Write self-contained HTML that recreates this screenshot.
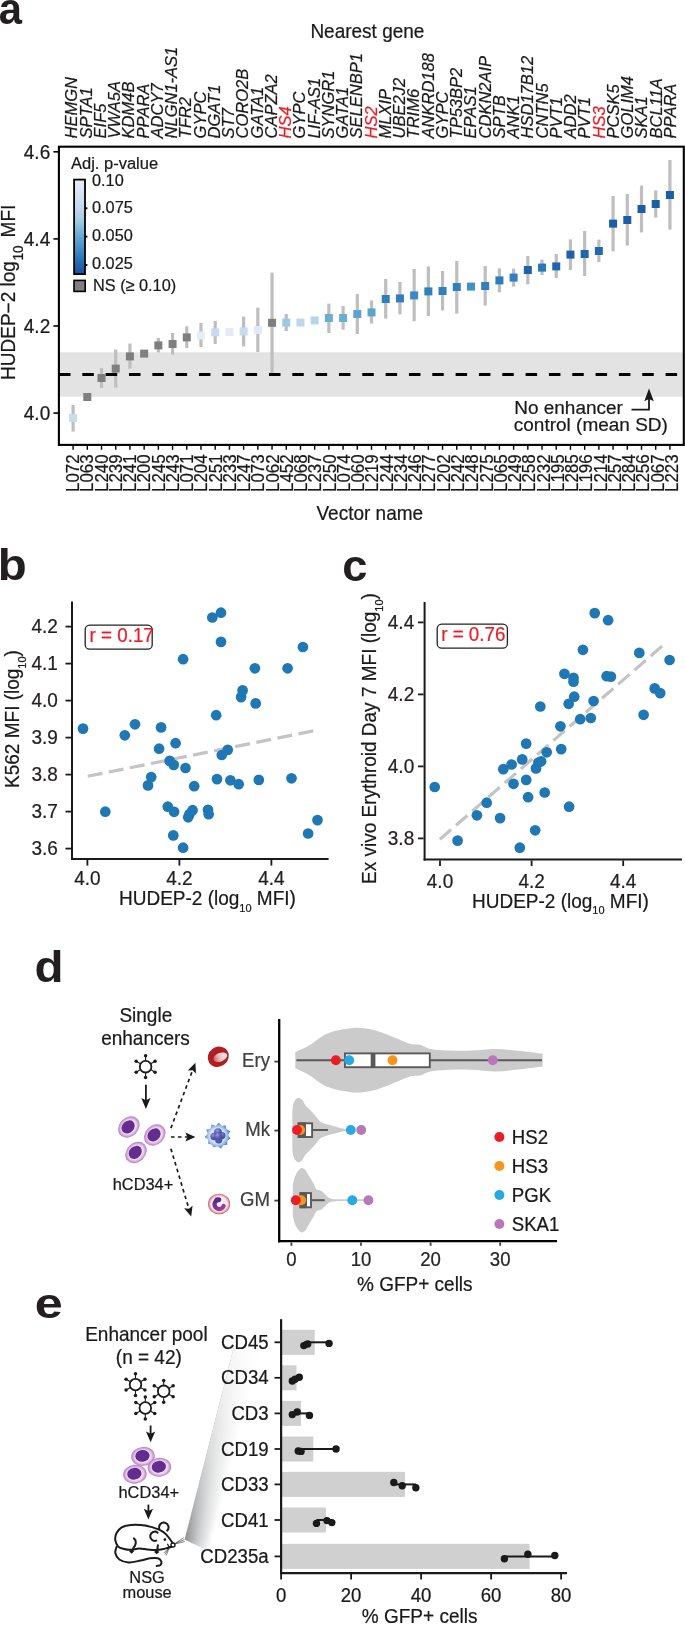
<!DOCTYPE html>
<html><head><meta charset="utf-8"><title>Figure</title>
<style>
html,body{margin:0;padding:0;background:#fff;}
body{width:685px;height:1625px;overflow:hidden;}
svg{display:block;will-change:transform;font-family:"Liberation Sans", sans-serif;}
</style></head>
<body>
<svg width="685" height="1625" viewBox="0 0 685 1625">
<rect width="685" height="1625" fill="#fff"/>
<text transform="translate(-1.2,24.2) scale(0.95,1)" font-size="44" font-weight="bold" fill="#231f20">a</text>
<text transform="translate(367.40,38.20) scale(1,1.04)" font-size="19" text-anchor="middle" fill="#1a1a1a" stroke="#1a1a1a" stroke-width="0.22" >Nearest gene</text>
<rect x="59" y="352.3" width="624.5" height="44.4" fill="#e3e3e3"/>
<line x1="73.10" y1="405.0" x2="73.10" y2="431.6" stroke="#bebebe" stroke-width="3.2"/>
<line x1="101.52" y1="368.0" x2="101.52" y2="388.0" stroke="#bebebe" stroke-width="3.2"/>
<line x1="115.73" y1="349.6" x2="115.73" y2="387.6" stroke="#bebebe" stroke-width="3.2"/>
<line x1="129.94" y1="343.6" x2="129.94" y2="368.6" stroke="#bebebe" stroke-width="3.2"/>
<line x1="158.36" y1="338.0" x2="158.36" y2="352.4" stroke="#bebebe" stroke-width="3.2"/>
<line x1="172.57" y1="333.0" x2="172.57" y2="354.6" stroke="#bebebe" stroke-width="3.2"/>
<line x1="186.78" y1="326.3" x2="186.78" y2="348.0" stroke="#bebebe" stroke-width="3.2"/>
<line x1="200.99" y1="323.0" x2="200.99" y2="347.0" stroke="#bebebe" stroke-width="3.2"/>
<line x1="215.20" y1="321.0" x2="215.20" y2="344.0" stroke="#bebebe" stroke-width="3.2"/>
<line x1="243.62" y1="316.6" x2="243.62" y2="346.4" stroke="#bebebe" stroke-width="3.2"/>
<line x1="257.83" y1="307.6" x2="257.83" y2="352.0" stroke="#bebebe" stroke-width="3.2"/>
<line x1="272.04" y1="272.6" x2="272.04" y2="374.0" stroke="#bebebe" stroke-width="3.2"/>
<line x1="286.25" y1="314.0" x2="286.25" y2="331.0" stroke="#bebebe" stroke-width="3.2"/>
<line x1="328.88" y1="303.6" x2="328.88" y2="333.0" stroke="#bebebe" stroke-width="3.2"/>
<line x1="343.09" y1="306.0" x2="343.09" y2="329.6" stroke="#bebebe" stroke-width="3.2"/>
<line x1="357.30" y1="294.0" x2="357.30" y2="334.0" stroke="#bebebe" stroke-width="3.2"/>
<line x1="371.51" y1="300.4" x2="371.51" y2="323.6" stroke="#bebebe" stroke-width="3.2"/>
<line x1="385.72" y1="279.0" x2="385.72" y2="318.6" stroke="#bebebe" stroke-width="3.2"/>
<line x1="399.93" y1="282.0" x2="399.93" y2="314.4" stroke="#bebebe" stroke-width="3.2"/>
<line x1="414.14" y1="269.0" x2="414.14" y2="321.2" stroke="#bebebe" stroke-width="3.2"/>
<line x1="428.35" y1="266.4" x2="428.35" y2="316.0" stroke="#bebebe" stroke-width="3.2"/>
<line x1="442.56" y1="271.0" x2="442.56" y2="310.4" stroke="#bebebe" stroke-width="3.2"/>
<line x1="456.77" y1="261.0" x2="456.77" y2="313.6" stroke="#bebebe" stroke-width="3.2"/>
<line x1="485.19" y1="266.0" x2="485.19" y2="305.6" stroke="#bebebe" stroke-width="3.2"/>
<line x1="499.40" y1="268.4" x2="499.40" y2="292.4" stroke="#bebebe" stroke-width="3.2"/>
<line x1="513.61" y1="268.6" x2="513.61" y2="286.6" stroke="#bebebe" stroke-width="3.2"/>
<line x1="527.82" y1="256.0" x2="527.82" y2="284.4" stroke="#bebebe" stroke-width="3.2"/>
<line x1="542.03" y1="259.6" x2="542.03" y2="275.0" stroke="#bebebe" stroke-width="3.2"/>
<line x1="556.24" y1="254.0" x2="556.24" y2="278.0" stroke="#bebebe" stroke-width="3.2"/>
<line x1="570.45" y1="239.4" x2="570.45" y2="270.0" stroke="#bebebe" stroke-width="3.2"/>
<line x1="584.66" y1="231.0" x2="584.66" y2="276.0" stroke="#bebebe" stroke-width="3.2"/>
<line x1="598.87" y1="239.6" x2="598.87" y2="262.0" stroke="#bebebe" stroke-width="3.2"/>
<line x1="613.08" y1="196.0" x2="613.08" y2="251.4" stroke="#bebebe" stroke-width="3.2"/>
<line x1="627.29" y1="194.0" x2="627.29" y2="245.6" stroke="#bebebe" stroke-width="3.2"/>
<line x1="641.50" y1="185.6" x2="641.50" y2="232.4" stroke="#bebebe" stroke-width="3.2"/>
<line x1="655.71" y1="190.4" x2="655.71" y2="217.6" stroke="#bebebe" stroke-width="3.2"/>
<line x1="669.92" y1="160.0" x2="669.92" y2="229.6" stroke="#bebebe" stroke-width="3.2"/>
<line x1="59" y1="374.4" x2="683" y2="374.4" stroke="#000" stroke-width="3" stroke-dasharray="11.5 11.83"/>
<rect x="69.10" y="414.00" width="8" height="8" fill="#c6dbef"/>
<rect x="83.31" y="393.00" width="8" height="8" fill="#7f7f7f"/>
<rect x="97.52" y="374.00" width="8" height="8" fill="#7f7f7f"/>
<rect x="111.73" y="364.60" width="8" height="8" fill="#7f7f7f"/>
<rect x="125.94" y="352.40" width="8" height="8" fill="#7f7f7f"/>
<rect x="140.15" y="349.60" width="8" height="8" fill="#7f7f7f"/>
<rect x="154.36" y="341.40" width="8" height="8" fill="#7f7f7f"/>
<rect x="168.57" y="340.00" width="8" height="8" fill="#7f7f7f"/>
<rect x="182.78" y="333.40" width="8" height="8" fill="#7f7f7f"/>
<rect x="196.99" y="331.40" width="8" height="8" fill="#e4edf8"/>
<rect x="211.20" y="328.40" width="8" height="8" fill="#c6dbef"/>
<rect x="225.41" y="328.00" width="8" height="8" fill="#e2ebf6"/>
<rect x="239.62" y="327.40" width="8" height="8" fill="#c6dbef"/>
<rect x="253.83" y="326.00" width="8" height="8" fill="#e1eaf6"/>
<rect x="268.04" y="318.80" width="8" height="8" fill="#7f7f7f"/>
<rect x="282.25" y="318.60" width="8" height="8" fill="#9ecae1"/>
<rect x="296.46" y="318.60" width="8" height="8" fill="#bdd7ee"/>
<rect x="310.67" y="316.40" width="8" height="8" fill="#b7d4ec"/>
<rect x="324.88" y="314.00" width="8" height="8" fill="#6aaed6"/>
<rect x="339.09" y="314.00" width="8" height="8" fill="#6aaed6"/>
<rect x="353.30" y="310.00" width="8" height="8" fill="#5ba3d0"/>
<rect x="367.51" y="308.40" width="8" height="8" fill="#5ba3d0"/>
<rect x="381.72" y="295.00" width="8" height="8" fill="#2f7ebd"/>
<rect x="395.93" y="294.40" width="8" height="8" fill="#2f7ebd"/>
<rect x="410.14" y="291.40" width="8" height="8" fill="#3a89c3"/>
<rect x="424.35" y="287.40" width="8" height="8" fill="#2f7ebd"/>
<rect x="438.56" y="287.00" width="8" height="8" fill="#2f7ebd"/>
<rect x="452.77" y="283.00" width="8" height="8" fill="#3080be"/>
<rect x="466.98" y="282.60" width="8" height="8" fill="#4292c6"/>
<rect x="481.19" y="282.00" width="8" height="8" fill="#2f7ebd"/>
<rect x="495.40" y="276.40" width="8" height="8" fill="#2e7ebc"/>
<rect x="509.61" y="273.60" width="8" height="8" fill="#3081bf"/>
<rect x="523.82" y="266.00" width="8" height="8" fill="#1f63a8"/>
<rect x="538.03" y="263.60" width="8" height="8" fill="#2a78b8"/>
<rect x="552.24" y="262.40" width="8" height="8" fill="#1f65ab"/>
<rect x="566.45" y="250.60" width="8" height="8" fill="#1d62a8"/>
<rect x="580.66" y="250.00" width="8" height="8" fill="#1f66ab"/>
<rect x="594.87" y="247.00" width="8" height="8" fill="#2468ae"/>
<rect x="609.08" y="219.60" width="8" height="8" fill="#1c5ea6"/>
<rect x="623.29" y="216.00" width="8" height="8" fill="#1c5ea6"/>
<rect x="637.50" y="205.00" width="8" height="8" fill="#1c5ea6"/>
<rect x="651.71" y="200.00" width="8" height="8" fill="#1c5ea6"/>
<rect x="665.92" y="191.00" width="8" height="8" fill="#1c5ea6"/>
<rect x="58.9" y="146.7" width="624.9" height="298.2" fill="none" stroke="#000" stroke-width="2.1"/>
<line x1="53.4" y1="151.80" x2="58.5" y2="151.80" stroke="#000" stroke-width="1.6"/>
<text transform="translate(50.20,158.55) scale(1,1.04)" font-size="19" text-anchor="end" fill="#1a1a1a" stroke="#1a1a1a" stroke-width="0.22" >4.6</text>
<line x1="53.4" y1="238.90" x2="58.5" y2="238.90" stroke="#000" stroke-width="1.6"/>
<text transform="translate(50.20,245.65) scale(1,1.04)" font-size="19" text-anchor="end" fill="#1a1a1a" stroke="#1a1a1a" stroke-width="0.22" >4.4</text>
<line x1="53.4" y1="326.00" x2="58.5" y2="326.00" stroke="#000" stroke-width="1.6"/>
<text transform="translate(50.20,332.75) scale(1,1.04)" font-size="19" text-anchor="end" fill="#1a1a1a" stroke="#1a1a1a" stroke-width="0.22" >4.2</text>
<line x1="53.4" y1="413.10" x2="58.5" y2="413.10" stroke="#000" stroke-width="1.6"/>
<text transform="translate(50.20,419.85) scale(1,1.04)" font-size="19" text-anchor="end" fill="#1a1a1a" stroke="#1a1a1a" stroke-width="0.22" >4.0</text>
<line x1="73.10" y1="445.5" x2="73.10" y2="449.8" stroke="#000" stroke-width="1.4"/>
<text transform="translate(79.10,454.40) rotate(-90) scale(1,1.04)" font-size="16.9" text-anchor="end" fill="#1a1a1a" stroke="#1a1a1a" stroke-width="0.22" >L072</text>
<text transform="translate(77.40,138.40) rotate(-90) scale(1,1.04)" font-size="16.5" text-anchor="start" fill="#1a1a1a" stroke="#1a1a1a" stroke-width="0.22" font-style="italic">HEMGN</text>
<line x1="87.31" y1="445.5" x2="87.31" y2="449.8" stroke="#000" stroke-width="1.4"/>
<text transform="translate(93.36,454.40) rotate(-90) scale(1,1.04)" font-size="16.9" text-anchor="end" fill="#1a1a1a" stroke="#1a1a1a" stroke-width="0.22" >L063</text>
<text transform="translate(91.65,138.40) rotate(-90) scale(1,1.04)" font-size="16.5" text-anchor="start" fill="#1a1a1a" stroke="#1a1a1a" stroke-width="0.22" font-style="italic">SPTA1</text>
<line x1="101.52" y1="445.5" x2="101.52" y2="449.8" stroke="#000" stroke-width="1.4"/>
<text transform="translate(107.61,454.40) rotate(-90) scale(1,1.04)" font-size="16.9" text-anchor="end" fill="#1a1a1a" stroke="#1a1a1a" stroke-width="0.22" >L240</text>
<text transform="translate(105.90,138.40) rotate(-90) scale(1,1.04)" font-size="16.5" text-anchor="start" fill="#1a1a1a" stroke="#1a1a1a" stroke-width="0.22" font-style="italic">EIF5</text>
<line x1="115.73" y1="445.5" x2="115.73" y2="449.8" stroke="#000" stroke-width="1.4"/>
<text transform="translate(121.86,454.40) rotate(-90) scale(1,1.04)" font-size="16.9" text-anchor="end" fill="#1a1a1a" stroke="#1a1a1a" stroke-width="0.22" >L239</text>
<text transform="translate(120.15,138.40) rotate(-90) scale(1,1.04)" font-size="16.5" text-anchor="start" fill="#1a1a1a" stroke="#1a1a1a" stroke-width="0.22" font-style="italic">VWA5A</text>
<line x1="129.94" y1="445.5" x2="129.94" y2="449.8" stroke="#000" stroke-width="1.4"/>
<text transform="translate(136.12,454.40) rotate(-90) scale(1,1.04)" font-size="16.9" text-anchor="end" fill="#1a1a1a" stroke="#1a1a1a" stroke-width="0.22" >L241</text>
<text transform="translate(134.40,138.40) rotate(-90) scale(1,1.04)" font-size="16.5" text-anchor="start" fill="#1a1a1a" stroke="#1a1a1a" stroke-width="0.22" font-style="italic">KDM4B</text>
<line x1="144.15" y1="445.5" x2="144.15" y2="449.8" stroke="#000" stroke-width="1.4"/>
<text transform="translate(150.38,454.40) rotate(-90) scale(1,1.04)" font-size="16.9" text-anchor="end" fill="#1a1a1a" stroke="#1a1a1a" stroke-width="0.22" >L200</text>
<text transform="translate(148.65,138.40) rotate(-90) scale(1,1.04)" font-size="16.5" text-anchor="start" fill="#1a1a1a" stroke="#1a1a1a" stroke-width="0.22" font-style="italic">PPARA</text>
<line x1="158.36" y1="445.5" x2="158.36" y2="449.8" stroke="#000" stroke-width="1.4"/>
<text transform="translate(164.63,454.40) rotate(-90) scale(1,1.04)" font-size="16.9" text-anchor="end" fill="#1a1a1a" stroke="#1a1a1a" stroke-width="0.22" >L245</text>
<text transform="translate(162.90,138.40) rotate(-90) scale(1,1.04)" font-size="16.5" text-anchor="start" fill="#1a1a1a" stroke="#1a1a1a" stroke-width="0.22" font-style="italic">ADCY7</text>
<line x1="172.57" y1="445.5" x2="172.57" y2="449.8" stroke="#000" stroke-width="1.4"/>
<text transform="translate(178.88,454.40) rotate(-90) scale(1,1.04)" font-size="16.9" text-anchor="end" fill="#1a1a1a" stroke="#1a1a1a" stroke-width="0.22" >L243</text>
<text transform="translate(177.15,138.40) rotate(-90) scale(1,1.04)" font-size="16.5" text-anchor="start" fill="#1a1a1a" stroke="#1a1a1a" stroke-width="0.22" font-style="italic">NLGN1-AS1</text>
<line x1="186.78" y1="445.5" x2="186.78" y2="449.8" stroke="#000" stroke-width="1.4"/>
<text transform="translate(193.14,454.40) rotate(-90) scale(1,1.04)" font-size="16.9" text-anchor="end" fill="#1a1a1a" stroke="#1a1a1a" stroke-width="0.22" >L071</text>
<text transform="translate(191.40,138.40) rotate(-90) scale(1,1.04)" font-size="16.5" text-anchor="start" fill="#1a1a1a" stroke="#1a1a1a" stroke-width="0.22" font-style="italic">TFR2</text>
<line x1="200.99" y1="445.5" x2="200.99" y2="449.8" stroke="#000" stroke-width="1.4"/>
<text transform="translate(207.40,454.40) rotate(-90) scale(1,1.04)" font-size="16.9" text-anchor="end" fill="#1a1a1a" stroke="#1a1a1a" stroke-width="0.22" >L204</text>
<text transform="translate(205.65,138.40) rotate(-90) scale(1,1.04)" font-size="16.5" text-anchor="start" fill="#1a1a1a" stroke="#1a1a1a" stroke-width="0.22" font-style="italic">GYPC</text>
<line x1="215.20" y1="445.5" x2="215.20" y2="449.8" stroke="#000" stroke-width="1.4"/>
<text transform="translate(221.65,454.40) rotate(-90) scale(1,1.04)" font-size="16.9" text-anchor="end" fill="#1a1a1a" stroke="#1a1a1a" stroke-width="0.22" >L251</text>
<text transform="translate(219.90,138.40) rotate(-90) scale(1,1.04)" font-size="16.5" text-anchor="start" fill="#1a1a1a" stroke="#1a1a1a" stroke-width="0.22" font-style="italic">DGAT1</text>
<line x1="229.41" y1="445.5" x2="229.41" y2="449.8" stroke="#000" stroke-width="1.4"/>
<text transform="translate(235.91,454.40) rotate(-90) scale(1,1.04)" font-size="16.9" text-anchor="end" fill="#1a1a1a" stroke="#1a1a1a" stroke-width="0.22" >L233</text>
<text transform="translate(234.15,138.40) rotate(-90) scale(1,1.04)" font-size="16.5" text-anchor="start" fill="#1a1a1a" stroke="#1a1a1a" stroke-width="0.22" font-style="italic">ST7</text>
<line x1="243.62" y1="445.5" x2="243.62" y2="449.8" stroke="#000" stroke-width="1.4"/>
<text transform="translate(250.16,454.40) rotate(-90) scale(1,1.04)" font-size="16.9" text-anchor="end" fill="#1a1a1a" stroke="#1a1a1a" stroke-width="0.22" >L247</text>
<text transform="translate(248.40,138.40) rotate(-90) scale(1,1.04)" font-size="16.5" text-anchor="start" fill="#1a1a1a" stroke="#1a1a1a" stroke-width="0.22" font-style="italic">CORO2B</text>
<line x1="257.83" y1="445.5" x2="257.83" y2="449.8" stroke="#000" stroke-width="1.4"/>
<text transform="translate(264.42,454.40) rotate(-90) scale(1,1.04)" font-size="16.9" text-anchor="end" fill="#1a1a1a" stroke="#1a1a1a" stroke-width="0.22" >L073</text>
<text transform="translate(262.65,138.40) rotate(-90) scale(1,1.04)" font-size="16.5" text-anchor="start" fill="#1a1a1a" stroke="#1a1a1a" stroke-width="0.22" font-style="italic">GATA1</text>
<line x1="272.04" y1="445.5" x2="272.04" y2="449.8" stroke="#000" stroke-width="1.4"/>
<text transform="translate(278.67,454.40) rotate(-90) scale(1,1.04)" font-size="16.9" text-anchor="end" fill="#1a1a1a" stroke="#1a1a1a" stroke-width="0.22" >L062</text>
<text transform="translate(276.90,138.40) rotate(-90) scale(1,1.04)" font-size="16.5" text-anchor="start" fill="#1a1a1a" stroke="#1a1a1a" stroke-width="0.22" font-style="italic">CAPZA2</text>
<line x1="286.25" y1="445.5" x2="286.25" y2="449.8" stroke="#000" stroke-width="1.4"/>
<text transform="translate(292.93,454.40) rotate(-90) scale(1,1.04)" font-size="16.9" text-anchor="end" fill="#1a1a1a" stroke="#1a1a1a" stroke-width="0.22" >L452</text>
<text transform="translate(291.15,138.40) rotate(-90) scale(1,1.04)" font-size="16.5" text-anchor="start" fill="#ed1c24" stroke="#ed1c24" stroke-width="0.22" font-style="italic">HS4</text>
<line x1="300.46" y1="445.5" x2="300.46" y2="449.8" stroke="#000" stroke-width="1.4"/>
<text transform="translate(307.18,454.40) rotate(-90) scale(1,1.04)" font-size="16.9" text-anchor="end" fill="#1a1a1a" stroke="#1a1a1a" stroke-width="0.22" >L068</text>
<text transform="translate(305.40,138.40) rotate(-90) scale(1,1.04)" font-size="16.5" text-anchor="start" fill="#1a1a1a" stroke="#1a1a1a" stroke-width="0.22" font-style="italic">GYPC</text>
<line x1="314.67" y1="445.5" x2="314.67" y2="449.8" stroke="#000" stroke-width="1.4"/>
<text transform="translate(321.44,454.40) rotate(-90) scale(1,1.04)" font-size="16.9" text-anchor="end" fill="#1a1a1a" stroke="#1a1a1a" stroke-width="0.22" >L237</text>
<text transform="translate(319.65,138.40) rotate(-90) scale(1,1.04)" font-size="16.5" text-anchor="start" fill="#1a1a1a" stroke="#1a1a1a" stroke-width="0.22" font-style="italic">LIF-AS1</text>
<line x1="328.88" y1="445.5" x2="328.88" y2="449.8" stroke="#000" stroke-width="1.4"/>
<text transform="translate(335.69,454.40) rotate(-90) scale(1,1.04)" font-size="16.9" text-anchor="end" fill="#1a1a1a" stroke="#1a1a1a" stroke-width="0.22" >L250</text>
<text transform="translate(333.90,138.40) rotate(-90) scale(1,1.04)" font-size="16.5" text-anchor="start" fill="#1a1a1a" stroke="#1a1a1a" stroke-width="0.22" font-style="italic">SYNGR1</text>
<line x1="343.09" y1="445.5" x2="343.09" y2="449.8" stroke="#000" stroke-width="1.4"/>
<text transform="translate(349.95,454.40) rotate(-90) scale(1,1.04)" font-size="16.9" text-anchor="end" fill="#1a1a1a" stroke="#1a1a1a" stroke-width="0.22" >L074</text>
<text transform="translate(348.15,138.40) rotate(-90) scale(1,1.04)" font-size="16.5" text-anchor="start" fill="#1a1a1a" stroke="#1a1a1a" stroke-width="0.22" font-style="italic">GATA1</text>
<line x1="357.30" y1="445.5" x2="357.30" y2="449.8" stroke="#000" stroke-width="1.4"/>
<text transform="translate(364.20,454.40) rotate(-90) scale(1,1.04)" font-size="16.9" text-anchor="end" fill="#1a1a1a" stroke="#1a1a1a" stroke-width="0.22" >L060</text>
<text transform="translate(362.40,138.40) rotate(-90) scale(1,1.04)" font-size="16.5" text-anchor="start" fill="#1a1a1a" stroke="#1a1a1a" stroke-width="0.22" font-style="italic">SELENBP1</text>
<line x1="371.51" y1="445.5" x2="371.51" y2="449.8" stroke="#000" stroke-width="1.4"/>
<text transform="translate(378.45,454.40) rotate(-90) scale(1,1.04)" font-size="16.9" text-anchor="end" fill="#1a1a1a" stroke="#1a1a1a" stroke-width="0.22" >L219</text>
<text transform="translate(376.65,138.40) rotate(-90) scale(1,1.04)" font-size="16.5" text-anchor="start" fill="#ed1c24" stroke="#ed1c24" stroke-width="0.22" font-style="italic">HS2</text>
<line x1="385.72" y1="445.5" x2="385.72" y2="449.8" stroke="#000" stroke-width="1.4"/>
<text transform="translate(392.71,454.40) rotate(-90) scale(1,1.04)" font-size="16.9" text-anchor="end" fill="#1a1a1a" stroke="#1a1a1a" stroke-width="0.22" >L244</text>
<text transform="translate(390.90,138.40) rotate(-90) scale(1,1.04)" font-size="16.5" text-anchor="start" fill="#1a1a1a" stroke="#1a1a1a" stroke-width="0.22" font-style="italic">MLXIP</text>
<line x1="399.93" y1="445.5" x2="399.93" y2="449.8" stroke="#000" stroke-width="1.4"/>
<text transform="translate(406.97,454.40) rotate(-90) scale(1,1.04)" font-size="16.9" text-anchor="end" fill="#1a1a1a" stroke="#1a1a1a" stroke-width="0.22" >L234</text>
<text transform="translate(405.15,138.40) rotate(-90) scale(1,1.04)" font-size="16.5" text-anchor="start" fill="#1a1a1a" stroke="#1a1a1a" stroke-width="0.22" font-style="italic">UBE2J2</text>
<line x1="414.14" y1="445.5" x2="414.14" y2="449.8" stroke="#000" stroke-width="1.4"/>
<text transform="translate(421.22,454.40) rotate(-90) scale(1,1.04)" font-size="16.9" text-anchor="end" fill="#1a1a1a" stroke="#1a1a1a" stroke-width="0.22" >L246</text>
<text transform="translate(419.40,138.40) rotate(-90) scale(1,1.04)" font-size="16.5" text-anchor="start" fill="#1a1a1a" stroke="#1a1a1a" stroke-width="0.22" font-style="italic">TRIM6</text>
<line x1="428.35" y1="445.5" x2="428.35" y2="449.8" stroke="#000" stroke-width="1.4"/>
<text transform="translate(435.48,454.40) rotate(-90) scale(1,1.04)" font-size="16.9" text-anchor="end" fill="#1a1a1a" stroke="#1a1a1a" stroke-width="0.22" >L277</text>
<text transform="translate(433.65,138.40) rotate(-90) scale(1,1.04)" font-size="16.5" text-anchor="start" fill="#1a1a1a" stroke="#1a1a1a" stroke-width="0.22" font-style="italic">ANKRD188</text>
<line x1="442.56" y1="445.5" x2="442.56" y2="449.8" stroke="#000" stroke-width="1.4"/>
<text transform="translate(449.73,454.40) rotate(-90) scale(1,1.04)" font-size="16.9" text-anchor="end" fill="#1a1a1a" stroke="#1a1a1a" stroke-width="0.22" >L202</text>
<text transform="translate(447.90,138.40) rotate(-90) scale(1,1.04)" font-size="16.5" text-anchor="start" fill="#1a1a1a" stroke="#1a1a1a" stroke-width="0.22" font-style="italic">GYPC</text>
<line x1="456.77" y1="445.5" x2="456.77" y2="449.8" stroke="#000" stroke-width="1.4"/>
<text transform="translate(463.98,454.40) rotate(-90) scale(1,1.04)" font-size="16.9" text-anchor="end" fill="#1a1a1a" stroke="#1a1a1a" stroke-width="0.22" >L242</text>
<text transform="translate(462.15,138.40) rotate(-90) scale(1,1.04)" font-size="16.5" text-anchor="start" fill="#1a1a1a" stroke="#1a1a1a" stroke-width="0.22" font-style="italic">TP53BP2</text>
<line x1="470.98" y1="445.5" x2="470.98" y2="449.8" stroke="#000" stroke-width="1.4"/>
<text transform="translate(478.24,454.40) rotate(-90) scale(1,1.04)" font-size="16.9" text-anchor="end" fill="#1a1a1a" stroke="#1a1a1a" stroke-width="0.22" >L248</text>
<text transform="translate(476.40,138.40) rotate(-90) scale(1,1.04)" font-size="16.5" text-anchor="start" fill="#1a1a1a" stroke="#1a1a1a" stroke-width="0.22" font-style="italic">EPAS1</text>
<line x1="485.19" y1="445.5" x2="485.19" y2="449.8" stroke="#000" stroke-width="1.4"/>
<text transform="translate(492.50,454.40) rotate(-90) scale(1,1.04)" font-size="16.9" text-anchor="end" fill="#1a1a1a" stroke="#1a1a1a" stroke-width="0.22" >L275</text>
<text transform="translate(490.65,138.40) rotate(-90) scale(1,1.04)" font-size="16.5" text-anchor="start" fill="#1a1a1a" stroke="#1a1a1a" stroke-width="0.22" font-style="italic">CDKN2AIP</text>
<line x1="499.40" y1="445.5" x2="499.40" y2="449.8" stroke="#000" stroke-width="1.4"/>
<text transform="translate(506.75,454.40) rotate(-90) scale(1,1.04)" font-size="16.9" text-anchor="end" fill="#1a1a1a" stroke="#1a1a1a" stroke-width="0.22" >L065</text>
<text transform="translate(504.90,138.40) rotate(-90) scale(1,1.04)" font-size="16.5" text-anchor="start" fill="#1a1a1a" stroke="#1a1a1a" stroke-width="0.22" font-style="italic">SPTB</text>
<line x1="513.61" y1="445.5" x2="513.61" y2="449.8" stroke="#000" stroke-width="1.4"/>
<text transform="translate(521.00,454.40) rotate(-90) scale(1,1.04)" font-size="16.9" text-anchor="end" fill="#1a1a1a" stroke="#1a1a1a" stroke-width="0.22" >L249</text>
<text transform="translate(519.15,138.40) rotate(-90) scale(1,1.04)" font-size="16.5" text-anchor="start" fill="#1a1a1a" stroke="#1a1a1a" stroke-width="0.22" font-style="italic">ANK1</text>
<line x1="527.82" y1="445.5" x2="527.82" y2="449.8" stroke="#000" stroke-width="1.4"/>
<text transform="translate(535.26,454.40) rotate(-90) scale(1,1.04)" font-size="16.9" text-anchor="end" fill="#1a1a1a" stroke="#1a1a1a" stroke-width="0.22" >L258</text>
<text transform="translate(533.40,138.40) rotate(-90) scale(1,1.04)" font-size="16.5" text-anchor="start" fill="#1a1a1a" stroke="#1a1a1a" stroke-width="0.22" font-style="italic">HSD17B12</text>
<line x1="542.03" y1="445.5" x2="542.03" y2="449.8" stroke="#000" stroke-width="1.4"/>
<text transform="translate(549.51,454.40) rotate(-90) scale(1,1.04)" font-size="16.9" text-anchor="end" fill="#1a1a1a" stroke="#1a1a1a" stroke-width="0.22" >L232</text>
<text transform="translate(547.65,138.40) rotate(-90) scale(1,1.04)" font-size="16.5" text-anchor="start" fill="#1a1a1a" stroke="#1a1a1a" stroke-width="0.22" font-style="italic">CNTN5</text>
<line x1="556.24" y1="445.5" x2="556.24" y2="449.8" stroke="#000" stroke-width="1.4"/>
<text transform="translate(563.77,454.40) rotate(-90) scale(1,1.04)" font-size="16.9" text-anchor="end" fill="#1a1a1a" stroke="#1a1a1a" stroke-width="0.22" >L195</text>
<text transform="translate(561.90,138.40) rotate(-90) scale(1,1.04)" font-size="16.5" text-anchor="start" fill="#1a1a1a" stroke="#1a1a1a" stroke-width="0.22" font-style="italic">PVT1</text>
<line x1="570.45" y1="445.5" x2="570.45" y2="449.8" stroke="#000" stroke-width="1.4"/>
<text transform="translate(578.03,454.40) rotate(-90) scale(1,1.04)" font-size="16.9" text-anchor="end" fill="#1a1a1a" stroke="#1a1a1a" stroke-width="0.22" >L285</text>
<text transform="translate(576.15,138.40) rotate(-90) scale(1,1.04)" font-size="16.5" text-anchor="start" fill="#1a1a1a" stroke="#1a1a1a" stroke-width="0.22" font-style="italic">ADD2</text>
<line x1="584.66" y1="445.5" x2="584.66" y2="449.8" stroke="#000" stroke-width="1.4"/>
<text transform="translate(592.28,454.40) rotate(-90) scale(1,1.04)" font-size="16.9" text-anchor="end" fill="#1a1a1a" stroke="#1a1a1a" stroke-width="0.22" >L196</text>
<text transform="translate(590.40,138.40) rotate(-90) scale(1,1.04)" font-size="16.5" text-anchor="start" fill="#1a1a1a" stroke="#1a1a1a" stroke-width="0.22" font-style="italic">PVT1</text>
<line x1="598.87" y1="445.5" x2="598.87" y2="449.8" stroke="#000" stroke-width="1.4"/>
<text transform="translate(606.53,454.40) rotate(-90) scale(1,1.04)" font-size="16.9" text-anchor="end" fill="#1a1a1a" stroke="#1a1a1a" stroke-width="0.22" >L214</text>
<text transform="translate(604.65,138.40) rotate(-90) scale(1,1.04)" font-size="16.5" text-anchor="start" fill="#ed1c24" stroke="#ed1c24" stroke-width="0.22" font-style="italic">HS3</text>
<line x1="613.08" y1="445.5" x2="613.08" y2="449.8" stroke="#000" stroke-width="1.4"/>
<text transform="translate(620.79,454.40) rotate(-90) scale(1,1.04)" font-size="16.9" text-anchor="end" fill="#1a1a1a" stroke="#1a1a1a" stroke-width="0.22" >L257</text>
<text transform="translate(618.90,138.40) rotate(-90) scale(1,1.04)" font-size="16.5" text-anchor="start" fill="#1a1a1a" stroke="#1a1a1a" stroke-width="0.22" font-style="italic">PCSK5</text>
<line x1="627.29" y1="445.5" x2="627.29" y2="449.8" stroke="#000" stroke-width="1.4"/>
<text transform="translate(635.05,454.40) rotate(-90) scale(1,1.04)" font-size="16.9" text-anchor="end" fill="#1a1a1a" stroke="#1a1a1a" stroke-width="0.22" >L284</text>
<text transform="translate(633.15,138.40) rotate(-90) scale(1,1.04)" font-size="16.5" text-anchor="start" fill="#1a1a1a" stroke="#1a1a1a" stroke-width="0.22" font-style="italic">GOLIM4</text>
<line x1="641.50" y1="445.5" x2="641.50" y2="449.8" stroke="#000" stroke-width="1.4"/>
<text transform="translate(649.30,454.40) rotate(-90) scale(1,1.04)" font-size="16.9" text-anchor="end" fill="#1a1a1a" stroke="#1a1a1a" stroke-width="0.22" >L256</text>
<text transform="translate(647.40,138.40) rotate(-90) scale(1,1.04)" font-size="16.5" text-anchor="start" fill="#1a1a1a" stroke="#1a1a1a" stroke-width="0.22" font-style="italic">SKA1</text>
<line x1="655.71" y1="445.5" x2="655.71" y2="449.8" stroke="#000" stroke-width="1.4"/>
<text transform="translate(663.56,454.40) rotate(-90) scale(1,1.04)" font-size="16.9" text-anchor="end" fill="#1a1a1a" stroke="#1a1a1a" stroke-width="0.22" >L067</text>
<text transform="translate(661.65,138.40) rotate(-90) scale(1,1.04)" font-size="16.5" text-anchor="start" fill="#1a1a1a" stroke="#1a1a1a" stroke-width="0.22" font-style="italic">BCL11A</text>
<line x1="669.92" y1="445.5" x2="669.92" y2="449.8" stroke="#000" stroke-width="1.4"/>
<text transform="translate(677.81,454.40) rotate(-90) scale(1,1.04)" font-size="16.9" text-anchor="end" fill="#1a1a1a" stroke="#1a1a1a" stroke-width="0.22" >L223</text>
<text transform="translate(675.90,138.40) rotate(-90) scale(1,1.04)" font-size="16.5" text-anchor="start" fill="#1a1a1a" stroke="#1a1a1a" stroke-width="0.22" font-style="italic">PPARA</text>
<text transform="translate(369.80,519.60) scale(1,1.04)" font-size="19" text-anchor="middle" fill="#1a1a1a" stroke="#1a1a1a" stroke-width="0.22" >Vector name</text>
<text transform="translate(14.80,379.90) rotate(-90) scale(1,1.04)" font-size="19" text-anchor="start" fill="#1a1a1a" stroke="#1a1a1a" stroke-width="0.22" >HUDEP−2 log</text>
<text transform="translate(22.90,260.50) rotate(-90) scale(1,1.04)" font-size="13.6" text-anchor="start" fill="#1a1a1a" stroke="#1a1a1a" stroke-width="0.22" >10</text>
<text transform="translate(14.80,237.40) rotate(-90) scale(1,1.04)" font-size="19" text-anchor="start" fill="#1a1a1a" stroke="#1a1a1a" stroke-width="0.22" >MFI</text>
<text transform="translate(71.00,169.00) scale(1,1.04)" font-size="16.5" text-anchor="start" fill="#1a1a1a" stroke="#1a1a1a" stroke-width="0.22" >Adj. p-value</text>
<defs><linearGradient id="cb" x1="0" y1="0" x2="0" y2="1"><stop offset="0" stop-color="#eaedf7"/><stop offset="0.28" stop-color="#c4dbee"/><stop offset="0.45" stop-color="#9dc9e0"/><stop offset="0.58" stop-color="#6badd6"/><stop offset="0.72" stop-color="#4592c8"/><stop offset="0.86" stop-color="#2270b6"/><stop offset="1" stop-color="#1f4e9e"/></linearGradient><linearGradient id="wedge" gradientUnits="userSpaceOnUse" x1="184.6" y1="1539.5" x2="210.8" y2="1546.2"><stop offset="0" stop-color="#8d8f92"/><stop offset="0.5" stop-color="#cfd0d1"/><stop offset="1" stop-color="#ffffff"/></linearGradient><linearGradient id="wedge2" gradientUnits="userSpaceOnUse" x1="0" y1="1539" x2="0" y2="1350"><stop offset="0" stop-color="#fff" stop-opacity="0"/><stop offset="0.17" stop-color="#fff" stop-opacity="0.3"/><stop offset="0.31" stop-color="#fff" stop-opacity="0.49"/><stop offset="0.48" stop-color="#fff" stop-opacity="0.67"/><stop offset="0.74" stop-color="#fff" stop-opacity="0.84"/><stop offset="1" stop-color="#fff" stop-opacity="0.94"/></linearGradient></defs>
<rect x="74.1" y="179.6" width="10.9" height="94.5" fill="url(#cb)" stroke="#000" stroke-width="1.8"/>
<text transform="translate(92.00,185.90) scale(1,1.04)" font-size="16.3" text-anchor="start" fill="#1a1a1a" stroke="#1a1a1a" stroke-width="0.22" >0.10</text>
<line x1="85" y1="208.3" x2="87.4" y2="208.3" stroke="#000" stroke-width="1.9"/>
<text transform="translate(92.00,212.70) scale(1,1.04)" font-size="16.3" text-anchor="start" fill="#1a1a1a" stroke="#1a1a1a" stroke-width="0.22" >0.075</text>
<line x1="85" y1="236.6" x2="87.4" y2="236.6" stroke="#000" stroke-width="1.9"/>
<text transform="translate(92.00,241.00) scale(1,1.04)" font-size="16.3" text-anchor="start" fill="#1a1a1a" stroke="#1a1a1a" stroke-width="0.22" >0.050</text>
<line x1="85" y1="265.0" x2="87.4" y2="265.0" stroke="#000" stroke-width="1.9"/>
<text transform="translate(92.00,269.40) scale(1,1.04)" font-size="16.3" text-anchor="start" fill="#1a1a1a" stroke="#1a1a1a" stroke-width="0.22" >0.025</text>
<rect x="74" y="280.4" width="11.2" height="11" fill="#7f7f7f" stroke="#000" stroke-width="1.6"/>
<text transform="translate(93.00,291.20) scale(1,1.04)" font-size="16.3" text-anchor="start" fill="#1a1a1a" stroke="#1a1a1a" stroke-width="0.22" >NS (≥ 0.10)</text>
<text transform="translate(514.20,413.80) scale(1,0.97)" font-size="19" text-anchor="start" fill="#1a1a1a" stroke="#1a1a1a" stroke-width="0.22" >No enhancer</text>
<text transform="translate(513.80,431.30) scale(1,0.97)" font-size="19" text-anchor="start" fill="#1a1a1a" stroke="#1a1a1a" stroke-width="0.22" >control (mean SD)</text>
<path d="M631.5 409.7 H649 V398" fill="none" stroke="#1a1a1a" stroke-width="1.8"/>
<path d="M644.3 401.3 L649 388.6 L653.8 401.3 L649 399 Z" fill="#1a1a1a"/>
<text transform="translate(-2.2,580.2) scale(1.09,1)" font-size="43.5" font-weight="bold" fill="#231f20">b</text>
<line x1="72" y1="601.5" x2="72" y2="860" stroke="#1a1a1a" stroke-width="2"/>
<line x1="71" y1="859" x2="328.6" y2="859" stroke="#1a1a1a" stroke-width="2"/>
<line x1="65.5" y1="848.60" x2="71" y2="848.60" stroke="#1a1a1a" stroke-width="1.8"/>
<text transform="translate(57.90,855.35) scale(1,1.04)" font-size="19" text-anchor="end" fill="#231f20" stroke="#231f20" stroke-width="0.22" >3.6</text>
<line x1="65.5" y1="811.60" x2="71" y2="811.60" stroke="#1a1a1a" stroke-width="1.8"/>
<text transform="translate(57.90,818.35) scale(1,1.04)" font-size="19" text-anchor="end" fill="#231f20" stroke="#231f20" stroke-width="0.22" >3.7</text>
<line x1="65.5" y1="774.60" x2="71" y2="774.60" stroke="#1a1a1a" stroke-width="1.8"/>
<text transform="translate(57.90,781.35) scale(1,1.04)" font-size="19" text-anchor="end" fill="#231f20" stroke="#231f20" stroke-width="0.22" >3.8</text>
<line x1="65.5" y1="737.60" x2="71" y2="737.60" stroke="#1a1a1a" stroke-width="1.8"/>
<text transform="translate(57.90,744.35) scale(1,1.04)" font-size="19" text-anchor="end" fill="#231f20" stroke="#231f20" stroke-width="0.22" >3.9</text>
<line x1="65.5" y1="700.60" x2="71" y2="700.60" stroke="#1a1a1a" stroke-width="1.8"/>
<text transform="translate(57.90,707.35) scale(1,1.04)" font-size="19" text-anchor="end" fill="#231f20" stroke="#231f20" stroke-width="0.22" >4.0</text>
<line x1="65.5" y1="663.60" x2="71" y2="663.60" stroke="#1a1a1a" stroke-width="1.8"/>
<text transform="translate(57.90,670.35) scale(1,1.04)" font-size="19" text-anchor="end" fill="#231f20" stroke="#231f20" stroke-width="0.22" >4.1</text>
<line x1="65.5" y1="626.60" x2="71" y2="626.60" stroke="#1a1a1a" stroke-width="1.8"/>
<text transform="translate(57.90,633.35) scale(1,1.04)" font-size="19" text-anchor="end" fill="#231f20" stroke="#231f20" stroke-width="0.22" >4.2</text>
<line x1="87.40" y1="860" x2="87.40" y2="865.6" stroke="#1a1a1a" stroke-width="1.8"/>
<text transform="translate(87.40,885.20) scale(1,1.04)" font-size="19" text-anchor="middle" fill="#231f20" stroke="#231f20" stroke-width="0.22" >4.0</text>
<line x1="179.40" y1="860" x2="179.40" y2="865.6" stroke="#1a1a1a" stroke-width="1.8"/>
<text transform="translate(179.40,885.20) scale(1,1.04)" font-size="19" text-anchor="middle" fill="#231f20" stroke="#231f20" stroke-width="0.22" >4.2</text>
<line x1="271.40" y1="860" x2="271.40" y2="865.6" stroke="#1a1a1a" stroke-width="1.8"/>
<text transform="translate(271.40,885.20) scale(1,1.04)" font-size="19" text-anchor="middle" fill="#231f20" stroke="#231f20" stroke-width="0.22" >4.4</text>
<text transform="translate(119,905.3) scale(1,1.04)" font-size="19" fill="#1a1a1a" stroke="#1a1a1a" stroke-width="0.22">HUDEP-2 (log<tspan font-size="11" dy="6.5">10</tspan><tspan dy="-6.5"> MFI)</tspan></text>
<text transform="translate(18.5,719) rotate(-90) scale(1,1.04)" font-size="19" text-anchor="middle" fill="#1a1a1a" stroke="#1a1a1a" stroke-width="0.22">K562 MFI (log<tspan font-size="11" dy="6.8">10</tspan><tspan dy="-6.8">)</tspan></text>
<line x1="87.7" y1="776.3" x2="316.4" y2="730.2" stroke="#c4c4c4" stroke-width="3.2" stroke-dasharray="15 6.5"/>
<circle cx="83.0" cy="728.6" r="5.35" fill="#1f77b4"/>
<circle cx="105.3" cy="811.7" r="5.35" fill="#1f77b4"/>
<circle cx="124.8" cy="735.3" r="5.35" fill="#1f77b4"/>
<circle cx="135.0" cy="724.3" r="5.35" fill="#1f77b4"/>
<circle cx="148.0" cy="785.4" r="5.35" fill="#1f77b4"/>
<circle cx="151.2" cy="777.1" r="5.35" fill="#1f77b4"/>
<circle cx="159.1" cy="748.7" r="5.35" fill="#1f77b4"/>
<circle cx="161.1" cy="727.4" r="5.35" fill="#1f77b4"/>
<circle cx="167.8" cy="806.7" r="5.35" fill="#1f77b4"/>
<circle cx="169.7" cy="760.9" r="5.35" fill="#1f77b4"/>
<circle cx="173.7" cy="764.9" r="5.35" fill="#1f77b4"/>
<circle cx="173.3" cy="835.4" r="5.35" fill="#1f77b4"/>
<circle cx="174.1" cy="811.8" r="5.35" fill="#1f77b4"/>
<circle cx="175.6" cy="743.2" r="5.35" fill="#1f77b4"/>
<circle cx="183.1" cy="659.2" r="5.35" fill="#1f77b4"/>
<circle cx="183.1" cy="847.7" r="5.35" fill="#1f77b4"/>
<circle cx="185.5" cy="768.0" r="5.35" fill="#1f77b4"/>
<circle cx="188.2" cy="817.3" r="5.35" fill="#1f77b4"/>
<circle cx="189.4" cy="814.2" r="5.35" fill="#1f77b4"/>
<circle cx="192.6" cy="810.2" r="5.35" fill="#1f77b4"/>
<circle cx="194.2" cy="786.2" r="5.35" fill="#1f77b4"/>
<circle cx="208.0" cy="809.8" r="5.35" fill="#1f77b4"/>
<circle cx="208.7" cy="814.2" r="5.35" fill="#1f77b4"/>
<circle cx="212.3" cy="617.5" r="5.35" fill="#1f77b4"/>
<circle cx="221.0" cy="612.7" r="5.35" fill="#1f77b4"/>
<circle cx="221.0" cy="641.9" r="5.35" fill="#1f77b4"/>
<circle cx="216.2" cy="715.2" r="5.35" fill="#1f77b4"/>
<circle cx="217.0" cy="779.1" r="5.35" fill="#1f77b4"/>
<circle cx="221.8" cy="755.0" r="5.35" fill="#1f77b4"/>
<circle cx="227.7" cy="749.9" r="5.35" fill="#1f77b4"/>
<circle cx="230.4" cy="780.3" r="5.35" fill="#1f77b4"/>
<circle cx="238.7" cy="784.2" r="5.35" fill="#1f77b4"/>
<circle cx="241.1" cy="697.1" r="5.35" fill="#1f77b4"/>
<circle cx="242.6" cy="690.4" r="5.35" fill="#1f77b4"/>
<circle cx="254.9" cy="668.3" r="5.35" fill="#1f77b4"/>
<circle cx="255.7" cy="703.4" r="5.35" fill="#1f77b4"/>
<circle cx="258.8" cy="779.9" r="5.35" fill="#1f77b4"/>
<circle cx="287.6" cy="668.3" r="5.35" fill="#1f77b4"/>
<circle cx="291.5" cy="778.3" r="5.35" fill="#1f77b4"/>
<circle cx="302.9" cy="647.0" r="5.35" fill="#1f77b4"/>
<circle cx="308.1" cy="833.5" r="5.35" fill="#1f77b4"/>
<circle cx="317.5" cy="820.1" r="5.35" fill="#1f77b4"/>
<rect x="85.2" y="625.2" width="67" height="24" rx="4.5" fill="#fff" stroke="#222" stroke-width="1.3"/>
<text transform="translate(89.60,642.20) scale(1,1.04)" font-size="18.8" text-anchor="start" fill="#ed1c24" stroke="#ed1c24" stroke-width="0.22" >r = 0.17</text>
<text transform="translate(342.3,581) scale(1.04,1)" font-size="43.5" font-weight="bold" fill="#231f20">c</text>
<line x1="424.6" y1="602" x2="424.6" y2="860.4" stroke="#1a1a1a" stroke-width="2"/>
<line x1="423.6" y1="859.6" x2="682" y2="859.6" stroke="#1a1a1a" stroke-width="2"/>
<line x1="418" y1="838.40" x2="423.6" y2="838.40" stroke="#1a1a1a" stroke-width="1.8"/>
<text transform="translate(414.20,845.15) scale(1,1.04)" font-size="19" text-anchor="end" fill="#231f20" stroke="#231f20" stroke-width="0.22" >3.8</text>
<line x1="418" y1="766.40" x2="423.6" y2="766.40" stroke="#1a1a1a" stroke-width="1.8"/>
<text transform="translate(414.20,773.15) scale(1,1.04)" font-size="19" text-anchor="end" fill="#231f20" stroke="#231f20" stroke-width="0.22" >4.0</text>
<line x1="418" y1="694.40" x2="423.6" y2="694.40" stroke="#1a1a1a" stroke-width="1.8"/>
<text transform="translate(414.20,701.15) scale(1,1.04)" font-size="19" text-anchor="end" fill="#231f20" stroke="#231f20" stroke-width="0.22" >4.2</text>
<line x1="418" y1="622.40" x2="423.6" y2="622.40" stroke="#1a1a1a" stroke-width="1.8"/>
<text transform="translate(414.20,629.15) scale(1,1.04)" font-size="19" text-anchor="end" fill="#231f20" stroke="#231f20" stroke-width="0.22" >4.4</text>
<line x1="440.00" y1="860.4" x2="440.00" y2="866" stroke="#1a1a1a" stroke-width="1.8"/>
<text transform="translate(440.00,887.70) scale(1,1.04)" font-size="19" text-anchor="middle" fill="#231f20" stroke="#231f20" stroke-width="0.22" >4.0</text>
<line x1="531.60" y1="860.4" x2="531.60" y2="866" stroke="#1a1a1a" stroke-width="1.8"/>
<text transform="translate(531.60,887.70) scale(1,1.04)" font-size="19" text-anchor="middle" fill="#231f20" stroke="#231f20" stroke-width="0.22" >4.2</text>
<line x1="623.20" y1="860.4" x2="623.20" y2="866" stroke="#1a1a1a" stroke-width="1.8"/>
<text transform="translate(623.20,887.70) scale(1,1.04)" font-size="19" text-anchor="middle" fill="#231f20" stroke="#231f20" stroke-width="0.22" >4.4</text>
<text transform="translate(472,907.5) scale(1,1.04)" font-size="19" fill="#1a1a1a" stroke="#1a1a1a" stroke-width="0.22">HUDEP-2 (log<tspan font-size="11" dy="6.5">10</tspan><tspan dy="-6.5"> MFI)</tspan></text>
<text transform="translate(375.6,738.5) rotate(-90) scale(1,1.04)" font-size="19" text-anchor="middle" fill="#1a1a1a" stroke="#1a1a1a" stroke-width="0.22">Ex vivo Erythroid Day 7 MFI (log<tspan font-size="11" dy="6.8">10</tspan><tspan dy="-6.8">)</tspan></text>
<line x1="439.8" y1="839.4" x2="665.5" y2="643.1" stroke="#c4c4c4" stroke-width="3.2" stroke-dasharray="15 6.5"/>
<circle cx="434.7" cy="787.0" r="5.35" fill="#1f77b4"/>
<circle cx="457.6" cy="840.6" r="5.35" fill="#1f77b4"/>
<circle cx="476.9" cy="815.3" r="5.35" fill="#1f77b4"/>
<circle cx="486.7" cy="802.7" r="5.35" fill="#1f77b4"/>
<circle cx="500.1" cy="818.1" r="5.35" fill="#1f77b4"/>
<circle cx="503.3" cy="769.2" r="5.35" fill="#1f77b4"/>
<circle cx="511.6" cy="764.5" r="5.35" fill="#1f77b4"/>
<circle cx="513.5" cy="783.8" r="5.35" fill="#1f77b4"/>
<circle cx="519.8" cy="847.7" r="5.35" fill="#1f77b4"/>
<circle cx="522.2" cy="759.4" r="5.35" fill="#1f77b4"/>
<circle cx="526.2" cy="743.6" r="5.35" fill="#1f77b4"/>
<circle cx="526.2" cy="779.9" r="5.35" fill="#1f77b4"/>
<circle cx="528.1" cy="797.2" r="5.35" fill="#1f77b4"/>
<circle cx="535.2" cy="830.3" r="5.35" fill="#1f77b4"/>
<circle cx="536.0" cy="768.4" r="5.35" fill="#1f77b4"/>
<circle cx="538.4" cy="762.5" r="5.35" fill="#1f77b4"/>
<circle cx="541.1" cy="761.3" r="5.35" fill="#1f77b4"/>
<circle cx="540.3" cy="706.5" r="5.35" fill="#1f77b4"/>
<circle cx="544.7" cy="792.5" r="5.35" fill="#1f77b4"/>
<circle cx="546.7" cy="752.3" r="5.35" fill="#1f77b4"/>
<circle cx="560.4" cy="726.3" r="5.35" fill="#1f77b4"/>
<circle cx="561.2" cy="749.1" r="5.35" fill="#1f77b4"/>
<circle cx="564.4" cy="673.8" r="5.35" fill="#1f77b4"/>
<circle cx="568.7" cy="703.8" r="5.35" fill="#1f77b4"/>
<circle cx="569.1" cy="806.7" r="5.35" fill="#1f77b4"/>
<circle cx="573.5" cy="677.8" r="5.35" fill="#1f77b4"/>
<circle cx="573.5" cy="681.7" r="5.35" fill="#1f77b4"/>
<circle cx="574.2" cy="696.7" r="5.35" fill="#1f77b4"/>
<circle cx="580.2" cy="719.2" r="5.35" fill="#1f77b4"/>
<circle cx="582.9" cy="649.8" r="5.35" fill="#1f77b4"/>
<circle cx="590.8" cy="718.0" r="5.35" fill="#1f77b4"/>
<circle cx="593.6" cy="701.0" r="5.35" fill="#1f77b4"/>
<circle cx="594.7" cy="613.1" r="5.35" fill="#1f77b4"/>
<circle cx="606.6" cy="676.2" r="5.35" fill="#1f77b4"/>
<circle cx="608.1" cy="620.2" r="5.35" fill="#1f77b4"/>
<circle cx="610.9" cy="676.6" r="5.35" fill="#1f77b4"/>
<circle cx="639.3" cy="652.9" r="5.35" fill="#1f77b4"/>
<circle cx="643.6" cy="714.8" r="5.35" fill="#1f77b4"/>
<circle cx="654.7" cy="688.4" r="5.35" fill="#1f77b4"/>
<circle cx="660.2" cy="693.1" r="5.35" fill="#1f77b4"/>
<circle cx="669.6" cy="660.0" r="5.35" fill="#1f77b4"/>
<rect x="437.2" y="624.2" width="70.2" height="24" rx="4.5" fill="#fff" stroke="#222" stroke-width="1.3"/>
<text transform="translate(441.20,641.20) scale(1,1.04)" font-size="18.8" text-anchor="start" fill="#ed1c24" stroke="#ed1c24" stroke-width="0.22" >r = 0.76</text>
<text transform="translate(34.6,981.5) scale(1.08,1)" font-size="44" font-weight="bold" fill="#231f20">d</text>
<text transform="translate(145.80,1021.50) scale(1,1.04)" font-size="19" text-anchor="middle" fill="#1a1a1a" stroke="#1a1a1a" stroke-width="0.22" >Single</text>
<text transform="translate(145.50,1044.60) scale(1,1.04)" font-size="19" text-anchor="middle" fill="#1a1a1a" stroke="#1a1a1a" stroke-width="0.22" >enhancers</text>
<defs><radialGradient id="cdg" cx="0.5" cy="0.5" r="0.5"><stop offset="0" stop-color="#f4eaf5"/><stop offset="0.6" stop-color="#f2e5f3"/><stop offset="0.75" stop-color="#e3c7e8"/><stop offset="0.9" stop-color="#c995d2"/><stop offset="1" stop-color="#b97dc5"/></radialGradient></defs>
<g transform="translate(145.6,1066.7)"><circle r="5.8" fill="none" stroke="#1a1a1a" stroke-width="1.8"/><line x1="0.00" y1="-5.80" x2="0.00" y2="-10.90" stroke="#1a1a1a" stroke-width="1.1"/><circle cx="0.00" cy="-10.90" r="1.75" fill="#1a1a1a"/><line x1="5.02" y1="-2.90" x2="9.44" y2="-5.45" stroke="#1a1a1a" stroke-width="1.1"/><circle cx="9.44" cy="-5.45" r="1.75" fill="#1a1a1a"/><line x1="5.02" y1="2.90" x2="9.44" y2="5.45" stroke="#1a1a1a" stroke-width="1.1"/><circle cx="9.44" cy="5.45" r="1.75" fill="#1a1a1a"/><line x1="0.00" y1="5.80" x2="0.00" y2="10.90" stroke="#1a1a1a" stroke-width="1.1"/><circle cx="0.00" cy="10.90" r="1.75" fill="#1a1a1a"/><line x1="-5.02" y1="2.90" x2="-9.44" y2="5.45" stroke="#1a1a1a" stroke-width="1.1"/><circle cx="-9.44" cy="5.45" r="1.75" fill="#1a1a1a"/><line x1="-5.02" y1="-2.90" x2="-9.44" y2="-5.45" stroke="#1a1a1a" stroke-width="1.1"/><circle cx="-9.44" cy="-5.45" r="1.75" fill="#1a1a1a"/></g>
<line x1="145.9" y1="1084.7" x2="145.9" y2="1102.9" stroke="#1a1a1a" stroke-width="1.8"/>
<path d="M141.3 1098.1000000000001 L145.9 1108.9 L150.5 1098.1000000000001 L145.9 1100.3000000000002 Z" fill="#1a1a1a"/>
<g transform="translate(128.9,1127.0) rotate(-45)"><ellipse rx="11.8" ry="9.5" fill="url(#cdg)"/><ellipse cx="-0.5" cy="-0.6" rx="7.2" ry="5.9" fill="#622d8f"/></g>
<g transform="translate(154.8,1135.0) rotate(-45)"><ellipse rx="11.8" ry="9.5" fill="url(#cdg)"/><ellipse cx="-0.5" cy="-0.6" rx="7.2" ry="5.9" fill="#622d8f"/></g>
<g transform="translate(136.0,1152.5) rotate(-45)"><ellipse rx="11.8" ry="9.5" fill="url(#cdg)"/><ellipse cx="-0.5" cy="-0.6" rx="7.2" ry="5.9" fill="#622d8f"/></g>
<text transform="translate(143.00,1189.60) scale(1,1.04)" font-size="16.4" text-anchor="middle" fill="#1a1a1a" stroke="#1a1a1a" stroke-width="0.22" >hCD34+</text>
<line x1="170.9" y1="1128.1" x2="192.59" y2="1070.19" stroke="#1a1a1a" stroke-width="1.7" stroke-dasharray="3.6 3.4"/>
<path d="M196.01 1073.61 L195.4 1062.7 L187.77 1070.52 L192.59 1070.19 Z" fill="#1a1a1a"/>
<line x1="170.9" y1="1137.0" x2="187.40" y2="1137.00" stroke="#1a1a1a" stroke-width="1.7" stroke-dasharray="3.6 3.4"/>
<path d="M185.40 1141.40 L195.4 1137.0 L185.40 1132.60 L187.40 1137.00 Z" fill="#1a1a1a"/>
<line x1="170.9" y1="1148.7" x2="188.91" y2="1208.84" stroke="#1a1a1a" stroke-width="1.7" stroke-dasharray="3.6 3.4"/>
<path d="M184.12 1208.18 L191.2 1216.5 L192.55 1205.66 L188.91 1208.84 Z" fill="#1a1a1a"/>
<defs><radialGradient id="rbc" cx="0.55" cy="0.45" r="0.6"><stop offset="0" stop-color="#f6d5d5"/><stop offset="0.35" stop-color="#d9545a"/><stop offset="1" stop-color="#b31e24"/></radialGradient><radialGradient id="mk" cx="0.5" cy="0.5" r="0.5"><stop offset="0" stop-color="#c9d9f1"/><stop offset="0.7" stop-color="#8cb0e0"/><stop offset="1" stop-color="#3a77c6"/></radialGradient></defs>
<defs><linearGradient id="rbch" x1="0" y1="0" x2="1" y2="0"><stop offset="0" stop-color="#cf5a5f"/><stop offset="0.45" stop-color="#efc3c4"/><stop offset="1" stop-color="#fbeeee"/></linearGradient></defs>
<ellipse cx="218.25" cy="1056.8" rx="10.9" ry="9.8" transform="rotate(-35 218.25 1056.8)" fill="#b01e24"/>
<ellipse cx="220.3" cy="1057.2" rx="7.2" ry="4.3" transform="rotate(-22 220.3 1057.2)" fill="url(#rbch)"/>
<defs><radialGradient id="mk2" cx="0.5" cy="0.5" r="0.5"><stop offset="0" stop-color="#e9eef9"/><stop offset="0.6" stop-color="#d3dff3"/><stop offset="0.8" stop-color="#94b5e3"/><stop offset="0.92" stop-color="#5a8fd6"/><stop offset="1" stop-color="#2f6fc8"/></radialGradient><radialGradient id="mkn" cx="0.4" cy="0.3" r="0.7"><stop offset="0" stop-color="#9aa0dc"/><stop offset="0.5" stop-color="#5a60b4"/><stop offset="1" stop-color="#474c9f"/></radialGradient><linearGradient id="gmn" gradientUnits="userSpaceOnUse" x1="-5" y1="-5" x2="6" y2="6"><stop offset="0" stop-color="#5a2590"/><stop offset="1" stop-color="#a8479f"/></linearGradient><radialGradient id="gmc" cx="0.5" cy="0.5" r="0.5"><stop offset="0" stop-color="#fdf8f9"/><stop offset="0.74" stop-color="#f7e6e9"/><stop offset="0.88" stop-color="#e6a2a8"/><stop offset="1" stop-color="#c44b55"/></radialGradient></defs>
<polygon points="230.33,1138.40 227.41,1140.86 227.14,1144.78 223.25,1145.20 220.95,1148.61 217.41,1146.14 213.86,1147.50 211.61,1144.69 208.01,1143.60 208.32,1139.67 204.55,1137.05 207.63,1133.80 206.23,1129.69 210.41,1128.53 211.58,1124.52 215.66,1125.85 218.75,1122.86 221.66,1125.64 225.60,1125.44 226.55,1129.31 230.21,1131.15 228.21,1135.02" fill="url(#mk2)"/>
<circle cx="214.10" cy="1136.50" r="3.7" fill="url(#mkn)"/>
<circle cx="221.90" cy="1135.60" r="3.6" fill="url(#mkn)"/>
<circle cx="218.00" cy="1132.20" r="3.9" fill="url(#mkn)"/>
<circle cx="218.70" cy="1139.80" r="3.7" fill="url(#mkn)"/>
<circle cx="218.10" cy="1136.60" r="4.0" fill="url(#mkn)"/>
<g transform="translate(219.1,1204)"><ellipse rx="11" ry="10.3" fill="url(#gmc)"/><path d="M0.2 -4.3 A4.7 4.7 0 1 0 4.6 1.9" fill="none" stroke="url(#gmn)" stroke-width="4.2" stroke-linecap="round"/><ellipse cx="-1.5" cy="-4.2" rx="3.2" ry="2.6" fill="#5d2690"/></g>
<text transform="translate(270.00,1067.20) scale(1,1.04)" font-size="18.6" text-anchor="end" fill="#404040" stroke="#404040" stroke-width="0.22" >Ery</text>
<text transform="translate(270.00,1136.20) scale(1,1.04)" font-size="18.6" text-anchor="end" fill="#404040" stroke="#404040" stroke-width="0.22" >Mk</text>
<text transform="translate(270.00,1206.30) scale(1,1.04)" font-size="18.6" text-anchor="end" fill="#404040" stroke="#404040" stroke-width="0.22" >GM</text>
<path d="M295.30 1052.10 C297.58 1051.00 303.55 1048.63 309.00 1045.50 C314.45 1042.37 320.73 1036.22 328.00 1033.30 C335.27 1030.38 345.33 1028.62 352.60 1028.00 C359.87 1027.38 365.27 1028.27 371.60 1029.60 C377.93 1030.93 384.20 1033.63 390.60 1036.00 C397.00 1038.37 405.10 1042.33 410.00 1043.80 C414.90 1045.27 416.60 1043.95 420.00 1044.80 C423.40 1045.65 425.25 1047.93 430.40 1048.90 C435.55 1049.87 444.08 1050.32 450.90 1050.60 C457.72 1050.88 463.82 1050.87 471.30 1050.60 C478.78 1050.33 487.97 1048.97 495.80 1049.00 C503.63 1049.03 510.50 1050.00 518.30 1050.80 C526.10 1051.60 538.55 1053.30 542.60 1053.80 L542.60 1066.60 C538.55 1067.10 526.10 1068.80 518.30 1069.60 C510.50 1070.40 503.63 1071.37 495.80 1071.40 C487.97 1071.43 478.78 1070.07 471.30 1069.80 C463.82 1069.53 457.72 1069.52 450.90 1069.80 C444.08 1070.08 435.55 1070.53 430.40 1071.50 C425.25 1072.47 423.40 1074.75 420.00 1075.60 C416.60 1076.45 414.90 1075.13 410.00 1076.60 C405.10 1078.07 397.00 1082.03 390.60 1084.40 C384.20 1086.77 377.93 1089.47 371.60 1090.80 C365.27 1092.13 359.87 1093.02 352.60 1092.40 C345.33 1091.78 335.27 1090.02 328.00 1087.10 C320.73 1084.18 314.45 1078.03 309.00 1074.90 C303.55 1071.77 297.58 1069.40 295.30 1068.30 Z" fill="#cbcbcb"/>
<line x1="296.4" y1="1060.2" x2="542" y2="1060.2" stroke="#595959" stroke-width="2"/>
<rect x="345" y="1053.4" width="84.8" height="13.8" fill="#fff" stroke="#595959" stroke-width="1.9"/>
<rect x="370.7" y="1053.4" width="4.7" height="13.8" fill="#595959"/>
<path d="M292.30 1111.40 C292.52 1110.03 292.95 1105.25 293.60 1103.20 C294.25 1101.15 295.27 1099.98 296.20 1099.10 C297.13 1098.22 298.18 1097.73 299.20 1097.90 C300.22 1098.07 301.27 1098.88 302.30 1100.10 C303.33 1101.32 304.20 1103.67 305.40 1105.20 C306.60 1106.73 308.15 1107.93 309.50 1109.30 C310.85 1110.67 312.15 1111.87 313.50 1113.40 C314.85 1114.93 316.40 1117.05 317.60 1118.50 C318.80 1119.95 319.33 1121.17 320.70 1122.10 C322.07 1123.03 323.58 1123.42 325.80 1124.10 C328.02 1124.78 331.27 1125.48 334.00 1126.20 C336.73 1126.92 339.87 1127.87 342.20 1128.40 C344.53 1128.93 347.03 1129.23 348.00 1129.40 L348.00 1130.60 C347.03 1130.77 344.53 1131.07 342.20 1131.60 C339.87 1132.13 336.73 1133.08 334.00 1133.80 C331.27 1134.52 328.02 1135.22 325.80 1135.90 C323.58 1136.58 322.07 1136.97 320.70 1137.90 C319.33 1138.83 318.80 1140.05 317.60 1141.50 C316.40 1142.95 314.85 1145.07 313.50 1146.60 C312.15 1148.13 310.85 1149.33 309.50 1150.70 C308.15 1152.07 306.60 1153.27 305.40 1154.80 C304.20 1156.33 303.33 1158.68 302.30 1159.90 C301.27 1161.12 300.22 1161.93 299.20 1162.10 C298.18 1162.27 297.13 1161.78 296.20 1160.90 C295.27 1160.02 294.25 1158.85 293.60 1156.80 C292.95 1154.75 292.52 1149.97 292.30 1148.60 Z" fill="#cbcbcb"/>
<line x1="313" y1="1130" x2="327.9" y2="1130" stroke="#595959" stroke-width="2"/>
<rect x="298.6" y="1123.3" width="13.5" height="13.7" fill="#fff" stroke="#595959" stroke-width="1.9"/>
<rect x="297.7" y="1122.4" width="8.3" height="15.5" fill="#595959"/>
<path d="M292.80 1184.50 C293.25 1182.95 294.42 1177.68 295.50 1175.20 C296.58 1172.72 298.25 1170.80 299.30 1169.60 C300.35 1168.40 300.75 1167.90 301.80 1168.00 C302.85 1168.10 304.35 1168.77 305.60 1170.20 C306.85 1171.63 308.05 1174.50 309.30 1176.60 C310.55 1178.70 311.95 1180.73 313.10 1182.80 C314.25 1184.87 315.30 1187.80 316.20 1189.00 C317.10 1190.20 317.77 1189.73 318.50 1190.00 C319.23 1190.27 319.85 1190.23 320.60 1190.60 C321.35 1190.97 322.27 1191.60 323.00 1192.20 C323.73 1192.80 324.25 1193.45 325.00 1194.20 C325.75 1194.95 326.58 1196.00 327.50 1196.70 C328.42 1197.40 329.08 1197.98 330.50 1198.40 C331.92 1198.82 332.75 1199.05 336.00 1199.20 C339.25 1199.35 344.67 1199.27 350.00 1199.30 C355.33 1199.33 365.00 1199.38 368.00 1199.40 L368.00 1201.00 C365.00 1201.02 355.33 1201.07 350.00 1201.10 C344.67 1201.13 339.25 1201.05 336.00 1201.20 C332.75 1201.35 331.92 1201.58 330.50 1202.00 C329.08 1202.42 328.42 1203.00 327.50 1203.70 C326.58 1204.40 325.75 1205.45 325.00 1206.20 C324.25 1206.95 323.73 1207.60 323.00 1208.20 C322.27 1208.80 321.35 1209.43 320.60 1209.80 C319.85 1210.17 319.23 1210.13 318.50 1210.40 C317.77 1210.67 317.10 1210.20 316.20 1211.40 C315.30 1212.60 314.25 1215.53 313.10 1217.60 C311.95 1219.67 310.55 1221.70 309.30 1223.80 C308.05 1225.90 306.85 1228.77 305.60 1230.20 C304.35 1231.63 302.85 1232.30 301.80 1232.40 C300.75 1232.50 300.35 1232.00 299.30 1230.80 C298.25 1229.60 296.58 1227.68 295.50 1225.20 C294.42 1222.72 293.25 1217.45 292.80 1215.90 Z" fill="#cbcbcb"/>
<line x1="311.9" y1="1200.2" x2="324.7" y2="1200.2" stroke="#595959" stroke-width="2"/>
<rect x="300.5" y="1193.1" width="10.5" height="14.2" fill="#fff" stroke="#595959" stroke-width="1.9"/>
<rect x="299.6" y="1192.2" width="7.4" height="16" fill="#595959"/>
<circle cx="335.9" cy="1060.2" r="4.95" fill="#ed1c24"/>
<circle cx="349.2" cy="1060.2" r="4.95" fill="#27aae1"/>
<circle cx="392.5" cy="1060.2" r="4.95" fill="#f7941d"/>
<circle cx="492.8" cy="1060.2" r="4.95" fill="#b878b8"/>
<circle cx="300.2" cy="1130" r="4.95" fill="#f7941d"/>
<circle cx="297" cy="1130" r="4.95" fill="#ed1c24"/>
<circle cx="350.8" cy="1130" r="4.95" fill="#27aae1"/>
<circle cx="361.2" cy="1130" r="4.95" fill="#b878b8"/>
<circle cx="301.2" cy="1200.2" r="4.95" fill="#f7941d"/>
<circle cx="295.8" cy="1200.2" r="4.95" fill="#ed1c24"/>
<circle cx="352.3" cy="1200.2" r="4.95" fill="#27aae1"/>
<circle cx="368.4" cy="1200.2" r="4.95" fill="#b878b8"/>
<line x1="279.2" y1="1019" x2="279.2" y2="1242.4" stroke="#000" stroke-width="2.3"/>
<line x1="278" y1="1241.2" x2="557" y2="1241.2" stroke="#000" stroke-width="2.3"/>
<line x1="274.4" y1="1061.6" x2="278" y2="1061.6" stroke="#404040" stroke-width="1.8"/>
<line x1="274.4" y1="1130.6" x2="278" y2="1130.6" stroke="#404040" stroke-width="1.8"/>
<line x1="274.4" y1="1200.6" x2="278" y2="1200.6" stroke="#404040" stroke-width="1.8"/>
<line x1="291.40" y1="1242.4" x2="291.40" y2="1245.8" stroke="#404040" stroke-width="1.8"/>
<text transform="translate(291.40,1266.00) scale(1,1.04)" font-size="18.6" text-anchor="middle" fill="#262626" stroke="#262626" stroke-width="0.22" >0</text>
<line x1="361.00" y1="1242.4" x2="361.00" y2="1245.8" stroke="#404040" stroke-width="1.8"/>
<text transform="translate(361.00,1266.00) scale(1,1.04)" font-size="18.6" text-anchor="middle" fill="#262626" stroke="#262626" stroke-width="0.22" >10</text>
<line x1="430.60" y1="1242.4" x2="430.60" y2="1245.8" stroke="#404040" stroke-width="1.8"/>
<text transform="translate(430.60,1266.00) scale(1,1.04)" font-size="18.6" text-anchor="middle" fill="#262626" stroke="#262626" stroke-width="0.22" >20</text>
<line x1="500.20" y1="1242.4" x2="500.20" y2="1245.8" stroke="#404040" stroke-width="1.8"/>
<text transform="translate(500.20,1266.00) scale(1,1.04)" font-size="18.6" text-anchor="middle" fill="#262626" stroke="#262626" stroke-width="0.22" >30</text>
<text transform="translate(414.80,1291.00) scale(1,1.04)" font-size="19" text-anchor="middle" fill="#1a1a1a" stroke="#1a1a1a" stroke-width="0.22" >% GFP+ cells</text>
<circle cx="499.4" cy="1137" r="5" fill="#ed1c24"/>
<text transform="translate(511.80,1143.60) scale(1,1.04)" font-size="18.6" text-anchor="start" fill="#1a1a1a" stroke="#1a1a1a" stroke-width="0.22" >HS2</text>
<circle cx="499.4" cy="1166" r="5" fill="#f7941d"/>
<text transform="translate(511.80,1172.60) scale(1,1.04)" font-size="18.6" text-anchor="start" fill="#1a1a1a" stroke="#1a1a1a" stroke-width="0.22" >HS3</text>
<circle cx="499.4" cy="1195" r="5" fill="#27aae1"/>
<text transform="translate(511.80,1201.60) scale(1,1.04)" font-size="18.6" text-anchor="start" fill="#1a1a1a" stroke="#1a1a1a" stroke-width="0.22" >PGK</text>
<circle cx="499.4" cy="1224" r="5" fill="#b878b8"/>
<text transform="translate(511.80,1230.60) scale(1,1.04)" font-size="18.6" text-anchor="start" fill="#1a1a1a" stroke="#1a1a1a" stroke-width="0.22" >SKA1</text>
<text transform="translate(34.8,1317.6) scale(1.17,1)" font-size="43" font-weight="bold" fill="#231f20">e</text>
<text transform="translate(146.40,1340.80) scale(1,1.04)" font-size="19" text-anchor="middle" fill="#1a1a1a" stroke="#1a1a1a" stroke-width="0.22" >Enhancer pool</text>
<text transform="translate(148.80,1363.90) scale(1,1.04)" font-size="19" text-anchor="middle" fill="#1a1a1a" stroke="#1a1a1a" stroke-width="0.22" >(n = 42)</text>
<g transform="translate(135.5,1384.6)"><circle r="5.8" fill="none" stroke="#1a1a1a" stroke-width="1.8"/><line x1="0.00" y1="-5.80" x2="0.00" y2="-10.90" stroke="#1a1a1a" stroke-width="1.1"/><circle cx="0.00" cy="-10.90" r="1.75" fill="#1a1a1a"/><line x1="5.02" y1="-2.90" x2="9.44" y2="-5.45" stroke="#1a1a1a" stroke-width="1.1"/><circle cx="9.44" cy="-5.45" r="1.75" fill="#1a1a1a"/><line x1="5.02" y1="2.90" x2="9.44" y2="5.45" stroke="#1a1a1a" stroke-width="1.1"/><circle cx="9.44" cy="5.45" r="1.75" fill="#1a1a1a"/><line x1="0.00" y1="5.80" x2="0.00" y2="10.90" stroke="#1a1a1a" stroke-width="1.1"/><circle cx="0.00" cy="10.90" r="1.75" fill="#1a1a1a"/><line x1="-5.02" y1="2.90" x2="-9.44" y2="5.45" stroke="#1a1a1a" stroke-width="1.1"/><circle cx="-9.44" cy="5.45" r="1.75" fill="#1a1a1a"/><line x1="-5.02" y1="-2.90" x2="-9.44" y2="-5.45" stroke="#1a1a1a" stroke-width="1.1"/><circle cx="-9.44" cy="-5.45" r="1.75" fill="#1a1a1a"/></g>
<g transform="translate(163.7,1391.3)"><circle r="5.8" fill="none" stroke="#1a1a1a" stroke-width="1.8"/><line x1="0.00" y1="-5.80" x2="0.00" y2="-10.90" stroke="#1a1a1a" stroke-width="1.1"/><circle cx="0.00" cy="-10.90" r="1.75" fill="#1a1a1a"/><line x1="5.02" y1="-2.90" x2="9.44" y2="-5.45" stroke="#1a1a1a" stroke-width="1.1"/><circle cx="9.44" cy="-5.45" r="1.75" fill="#1a1a1a"/><line x1="5.02" y1="2.90" x2="9.44" y2="5.45" stroke="#1a1a1a" stroke-width="1.1"/><circle cx="9.44" cy="5.45" r="1.75" fill="#1a1a1a"/><line x1="0.00" y1="5.80" x2="0.00" y2="10.90" stroke="#1a1a1a" stroke-width="1.1"/><circle cx="0.00" cy="10.90" r="1.75" fill="#1a1a1a"/><line x1="-5.02" y1="2.90" x2="-9.44" y2="5.45" stroke="#1a1a1a" stroke-width="1.1"/><circle cx="-9.44" cy="5.45" r="1.75" fill="#1a1a1a"/><line x1="-5.02" y1="-2.90" x2="-9.44" y2="-5.45" stroke="#1a1a1a" stroke-width="1.1"/><circle cx="-9.44" cy="-5.45" r="1.75" fill="#1a1a1a"/></g>
<g transform="translate(145.3,1408.0)"><circle r="5.8" fill="none" stroke="#1a1a1a" stroke-width="1.8"/><line x1="0.00" y1="-5.80" x2="0.00" y2="-10.90" stroke="#1a1a1a" stroke-width="1.1"/><circle cx="0.00" cy="-10.90" r="1.75" fill="#1a1a1a"/><line x1="5.02" y1="-2.90" x2="9.44" y2="-5.45" stroke="#1a1a1a" stroke-width="1.1"/><circle cx="9.44" cy="-5.45" r="1.75" fill="#1a1a1a"/><line x1="5.02" y1="2.90" x2="9.44" y2="5.45" stroke="#1a1a1a" stroke-width="1.1"/><circle cx="9.44" cy="5.45" r="1.75" fill="#1a1a1a"/><line x1="0.00" y1="5.80" x2="0.00" y2="10.90" stroke="#1a1a1a" stroke-width="1.1"/><circle cx="0.00" cy="10.90" r="1.75" fill="#1a1a1a"/><line x1="-5.02" y1="2.90" x2="-9.44" y2="5.45" stroke="#1a1a1a" stroke-width="1.1"/><circle cx="-9.44" cy="5.45" r="1.75" fill="#1a1a1a"/><line x1="-5.02" y1="-2.90" x2="-9.44" y2="-5.45" stroke="#1a1a1a" stroke-width="1.1"/><circle cx="-9.44" cy="-5.45" r="1.75" fill="#1a1a1a"/></g>
<line x1="150.6" y1="1425.5" x2="150.6" y2="1436.3" stroke="#1a1a1a" stroke-width="1.8"/>
<path d="M146.0 1431.5 L150.6 1442.3 L155.2 1431.5 L150.6 1433.7 Z" fill="#1a1a1a"/>
<g transform="translate(143.0,1456.4) rotate(-6)"><ellipse rx="11.8" ry="9.5" fill="url(#cdg)"/><ellipse cx="-0.5" cy="-0.6" rx="7.2" ry="5.9" fill="#622d8f"/></g>
<g transform="translate(159.4,1467.3) rotate(-6)"><ellipse rx="11.8" ry="9.5" fill="url(#cdg)"/><ellipse cx="-0.5" cy="-0.6" rx="7.2" ry="5.9" fill="#622d8f"/></g>
<g transform="translate(134.9,1474.3) rotate(-6)"><ellipse rx="11.8" ry="9.5" fill="url(#cdg)"/><ellipse cx="-0.5" cy="-0.6" rx="7.2" ry="5.9" fill="#622d8f"/></g>
<text transform="translate(148.80,1498.10) scale(1,1.04)" font-size="16.4" text-anchor="middle" fill="#1a1a1a" stroke="#1a1a1a" stroke-width="0.22" >hCD34+</text>
<line x1="148.4" y1="1504.6" x2="148.4" y2="1513.5" stroke="#1a1a1a" stroke-width="1.8"/>
<path d="M143.8 1508.7 L148.4 1519.5 L153.0 1508.7 L148.4 1510.9 Z" fill="#1a1a1a"/>
<path d="M184.6 1539.5 L234.2 1346 L262 1346 L262 1566 L230 1561.5 Z" fill="url(#wedge)"/>
<path d="M184.6 1539.5 L234.2 1346 L262 1346 L262 1566 L230 1561.5 Z" fill="url(#wedge2)"/>
<g fill="none" stroke="#1a1a1a" stroke-width="2" stroke-linecap="round" stroke-linejoin="round"><path d="M173.60 1544.30 C172.35 1542.65 168.52 1536.83 166.10 1534.40 C163.68 1531.97 162.62 1531.17 159.10 1529.70 C155.58 1528.23 149.68 1526.38 145.00 1525.60 C140.32 1524.82 134.88 1524.72 131.00 1525.00 C127.12 1525.28 124.13 1525.93 121.70 1527.30 C119.27 1528.67 117.47 1531.05 116.40 1533.20 C115.33 1535.35 115.00 1537.97 115.30 1540.20 C115.60 1542.43 116.75 1545.13 118.20 1546.60 C119.65 1548.07 121.87 1548.47 124.00 1549.00 C126.13 1549.53 128.47 1549.87 131.00 1549.80 C133.53 1549.73 136.47 1548.65 139.20 1548.60 C141.93 1548.55 144.48 1549.25 147.40 1549.50 C150.32 1549.75 153.78 1550.25 156.70 1550.10 C159.62 1549.95 162.37 1549.18 164.90 1548.60 C167.43 1548.02 170.45 1547.32 171.90 1546.60 C173.35 1545.88 173.32 1544.68 173.60 1544.30"/><path d="M116.60 1546.80 C116.38 1547.83 114.85 1550.88 115.30 1553.00 C115.75 1555.12 117.07 1557.93 119.30 1559.50 C121.53 1561.07 125.18 1562.22 128.70 1562.40 C132.22 1562.58 136.90 1561.28 140.40 1560.60 C143.90 1559.92 146.78 1558.68 149.70 1558.30 C152.62 1557.92 155.95 1557.72 157.90 1558.30 C159.85 1558.88 161.02 1560.63 161.40 1561.80 C161.78 1562.97 160.98 1564.62 160.20 1565.30 C159.42 1565.98 157.28 1565.80 156.70 1565.90"/><path d="M159.3 1528.6 A4.7 4.7 0 1 1 167.2 1530.6"/><path d="M157.6 1532.6 A4.6 4.6 0 1 0 156.3 1540.6"/><path d="M133.9 1538.4 C 136.6 1540.5, 136.6 1545, 133 1548.4"/><path d="M157.9 1545.2 L157.4 1549"/><path d="M167.6 1544.2 C 168.2 1546, 169.5 1547, 171 1546.8" stroke-width="1.2"/></g>
<circle cx="164.9" cy="1539.6" r="1.35" fill="#1a1a1a"/>
<circle cx="173.0" cy="1545.0" r="2.0" fill="#fff" stroke="#1a1a1a" stroke-width="1.4"/>
<path d="M131.6 1548.9 L134.2 1551.3 L131.6 1553.7 L129.0 1551.3 Z M156.7 1549.5 L159.3 1551.9 L156.7 1554.3 L154.1 1551.9 Z" fill="#1a1a1a"/>
<g stroke="#1a1a1a" stroke-width="0.55" fill="none"><path d="M175.2 1543.4 L183.6 1537.9 M175.2 1543.6 L184.3 1539.7 M175.2 1543.8 L184.8 1541.6"/><path d="M168.6 1548.2 L163.6 1553.2 M168.8 1548.4 L164.9 1554.4 M169 1548.5 L166.2 1555.5"/></g>
<text transform="translate(147.10,1582.60) scale(1,1.04)" font-size="16.4" text-anchor="middle" fill="#1a1a1a" stroke="#1a1a1a" stroke-width="0.22" >NSG</text>
<text transform="translate(147.10,1597.50) scale(1,1.04)" font-size="16.4" text-anchor="middle" fill="#1a1a1a" stroke="#1a1a1a" stroke-width="0.22" >mouse</text>
<rect x="282" y="1329.80" width="32.70" height="25" fill="#d0d0d0"/>
<rect x="282" y="1365.30" width="14.50" height="25" fill="#d0d0d0"/>
<rect x="282" y="1400.90" width="19.05" height="25" fill="#d0d0d0"/>
<rect x="282" y="1436.50" width="31.30" height="25" fill="#d0d0d0"/>
<rect x="282" y="1471.90" width="123.00" height="25" fill="#d0d0d0"/>
<rect x="282" y="1507.50" width="43.90" height="25" fill="#d0d0d0"/>
<rect x="282" y="1543.90" width="247.60" height="25" fill="#d0d0d0"/>
<line x1="303.85" y1="1342.3" x2="329.05" y2="1342.3" stroke="#1a1a1a" stroke-width="2"/>
<circle cx="303.85" cy="1345.60" r="3.7" fill="#1a1a1a"/>
<circle cx="307.70" cy="1344.00" r="3.7" fill="#1a1a1a"/>
<circle cx="329.05" cy="1343.40" r="3.7" fill="#1a1a1a"/>
<line x1="274.5" y1="1342.3" x2="280" y2="1342.3" stroke="#1a1a1a" stroke-width="1.8"/>
<text transform="translate(268.60,1348.80) scale(1,1.04)" font-size="18.6" text-anchor="end" fill="#1a1a1a" stroke="#1a1a1a" stroke-width="0.22" >CD45</text>
<line x1="292.30" y1="1377.8" x2="299.30" y2="1377.8" stroke="#1a1a1a" stroke-width="2"/>
<circle cx="292.30" cy="1381.00" r="3.7" fill="#1a1a1a"/>
<circle cx="295.10" cy="1379.20" r="3.7" fill="#1a1a1a"/>
<circle cx="299.30" cy="1377.20" r="3.7" fill="#1a1a1a"/>
<line x1="274.5" y1="1377.8" x2="280" y2="1377.8" stroke="#1a1a1a" stroke-width="1.8"/>
<text transform="translate(268.60,1384.30) scale(1,1.04)" font-size="18.6" text-anchor="end" fill="#1a1a1a" stroke="#1a1a1a" stroke-width="0.22" >CD34</text>
<line x1="292.30" y1="1413.4" x2="309.45" y2="1413.4" stroke="#1a1a1a" stroke-width="2"/>
<circle cx="292.30" cy="1414.60" r="3.7" fill="#1a1a1a"/>
<circle cx="297.20" cy="1412.00" r="3.7" fill="#1a1a1a"/>
<circle cx="309.45" cy="1415.40" r="3.7" fill="#1a1a1a"/>
<line x1="274.5" y1="1413.4" x2="280" y2="1413.4" stroke="#1a1a1a" stroke-width="1.8"/>
<text transform="translate(268.60,1419.90) scale(1,1.04)" font-size="18.6" text-anchor="end" fill="#1a1a1a" stroke="#1a1a1a" stroke-width="0.22" >CD3</text>
<line x1="298.25" y1="1449.0" x2="336.05" y2="1449.0" stroke="#1a1a1a" stroke-width="2"/>
<circle cx="298.25" cy="1451.00" r="3.7" fill="#1a1a1a"/>
<circle cx="301.05" cy="1451.40" r="3.7" fill="#1a1a1a"/>
<circle cx="336.05" cy="1449.00" r="3.7" fill="#1a1a1a"/>
<line x1="274.5" y1="1449.0" x2="280" y2="1449.0" stroke="#1a1a1a" stroke-width="1.8"/>
<text transform="translate(268.60,1455.50) scale(1,1.04)" font-size="18.6" text-anchor="end" fill="#1a1a1a" stroke="#1a1a1a" stroke-width="0.22" >CD19</text>
<line x1="393.80" y1="1484.4" x2="415.85" y2="1484.4" stroke="#1a1a1a" stroke-width="2"/>
<circle cx="393.80" cy="1482.50" r="3.7" fill="#1a1a1a"/>
<circle cx="402.20" cy="1485.70" r="3.7" fill="#1a1a1a"/>
<circle cx="415.85" cy="1487.70" r="3.7" fill="#1a1a1a"/>
<line x1="274.5" y1="1484.4" x2="280" y2="1484.4" stroke="#1a1a1a" stroke-width="1.8"/>
<text transform="translate(268.60,1490.90) scale(1,1.04)" font-size="18.6" text-anchor="end" fill="#1a1a1a" stroke="#1a1a1a" stroke-width="0.22" >CD33</text>
<line x1="316.45" y1="1520.0" x2="331.85" y2="1520.0" stroke="#1a1a1a" stroke-width="2"/>
<circle cx="316.45" cy="1523.40" r="3.7" fill="#1a1a1a"/>
<circle cx="326.95" cy="1520.60" r="3.7" fill="#1a1a1a"/>
<circle cx="331.85" cy="1522.60" r="3.7" fill="#1a1a1a"/>
<line x1="274.5" y1="1520.0" x2="280" y2="1520.0" stroke="#1a1a1a" stroke-width="1.8"/>
<text transform="translate(268.60,1526.50) scale(1,1.04)" font-size="18.6" text-anchor="end" fill="#1a1a1a" stroke="#1a1a1a" stroke-width="0.22" >CD41</text>
<line x1="504.40" y1="1556.4" x2="554.80" y2="1556.4" stroke="#1a1a1a" stroke-width="2"/>
<circle cx="504.40" cy="1558.70" r="3.7" fill="#1a1a1a"/>
<circle cx="527.85" cy="1554.30" r="3.7" fill="#1a1a1a"/>
<circle cx="554.80" cy="1555.50" r="3.7" fill="#1a1a1a"/>
<line x1="274.5" y1="1556.4" x2="280" y2="1556.4" stroke="#1a1a1a" stroke-width="1.8"/>
<text transform="translate(268.60,1562.90) scale(1,1.04)" font-size="18.6" text-anchor="end" fill="#1a1a1a" stroke="#1a1a1a" stroke-width="0.22" >CD235a</text>
<line x1="281.1" y1="1319.2" x2="281.1" y2="1574" stroke="#1a1a1a" stroke-width="2.2"/>
<line x1="280" y1="1573.2" x2="567" y2="1573.2" stroke="#1a1a1a" stroke-width="2.2"/>
<line x1="281.10" y1="1574" x2="281.10" y2="1579.5" stroke="#1a1a1a" stroke-width="1.8"/>
<text transform="translate(281.10,1601.50) scale(1,1.04)" font-size="18.6" text-anchor="middle" fill="#1a1a1a" stroke="#1a1a1a" stroke-width="0.22" >0</text>
<line x1="351.10" y1="1574" x2="351.10" y2="1579.5" stroke="#1a1a1a" stroke-width="1.8"/>
<text transform="translate(351.10,1601.50) scale(1,1.04)" font-size="18.6" text-anchor="middle" fill="#1a1a1a" stroke="#1a1a1a" stroke-width="0.22" >20</text>
<line x1="421.10" y1="1574" x2="421.10" y2="1579.5" stroke="#1a1a1a" stroke-width="1.8"/>
<text transform="translate(421.10,1601.50) scale(1,1.04)" font-size="18.6" text-anchor="middle" fill="#1a1a1a" stroke="#1a1a1a" stroke-width="0.22" >40</text>
<line x1="491.10" y1="1574" x2="491.10" y2="1579.5" stroke="#1a1a1a" stroke-width="1.8"/>
<text transform="translate(491.10,1601.50) scale(1,1.04)" font-size="18.6" text-anchor="middle" fill="#1a1a1a" stroke="#1a1a1a" stroke-width="0.22" >60</text>
<line x1="561.10" y1="1574" x2="561.10" y2="1579.5" stroke="#1a1a1a" stroke-width="1.8"/>
<text transform="translate(561.10,1601.50) scale(1,1.04)" font-size="18.6" text-anchor="middle" fill="#1a1a1a" stroke="#1a1a1a" stroke-width="0.22" >80</text>
<text transform="translate(419.60,1623.20) scale(1,1.04)" font-size="19" text-anchor="middle" fill="#1a1a1a" stroke="#1a1a1a" stroke-width="0.22" >% GFP+ cells</text>
</svg>
</body></html>
